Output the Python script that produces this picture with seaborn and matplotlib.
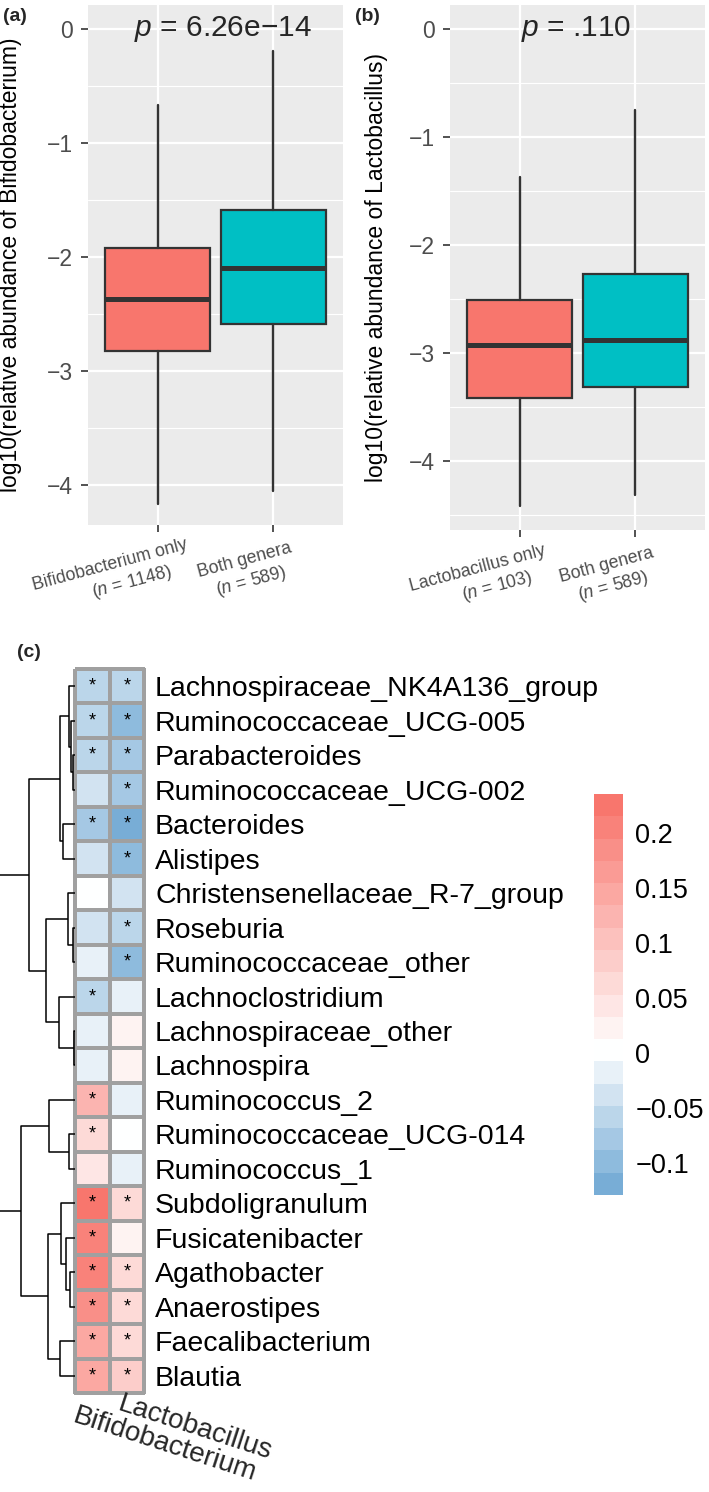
import numpy as np
import pandas as pd
import matplotlib
matplotlib.use("Agg")
import matplotlib.pyplot as plt
import seaborn as sns
from matplotlib.colors import LinearSegmentedColormap
from matplotlib.ticker import MultipleLocator
from matplotlib.transforms import offset_copy

# ---- panel (a) / (b): box summaries (lower whisker, Q1, median, Q3, upper whisker)
groups_a = ["Bifidobacterium only", "Both genera"]
n_a = [1148, 589]
box_a = [[-4.17, -2.82, -2.37, -1.92, -0.67],
         [-4.05, -2.59, -2.10, -1.59, -0.19]]
p_a = "6.26e\u221214"

groups_b = ["Lactobacillus only", "Both genera"]
n_b = [103, 589]
box_b = [[-4.42, -3.42, -2.93, -2.51, -1.37],
         [-4.32, -3.32, -2.88, -2.27, -0.75]]
p_b = ".110"

box_colors = ["#F8766D", "#00BFC4"]

# ---- panel (c): correlations with each genus
genera = ["Lachnospiraceae_NK4A136_group", "Ruminococcaceae_UCG-005", "Parabacteroides",
          "Ruminococcaceae_UCG-002", "Bacteroides", "Alistipes",
          "Christensenellaceae_R-7_group", "Roseburia", "Ruminococcaceae_other",
          "Lachnoclostridium", "Lachnospiraceae_other", "Lachnospira",
          "Ruminococcus_2", "Ruminococcaceae_UCG-014", "Ruminococcus_1",
          "Subdoligranulum", "Fusicatenibacter", "Agathobacter", "Anaerostipes",
          "Faecalibacterium", "Blautia"]
corr_bif = [-0.060, -0.060, -0.065, -0.045, -0.075, -0.030, 0.002, -0.035, -0.015,
            -0.055, -0.015, -0.015, 0.120, 0.060, 0.050, 0.220, 0.200, 0.200, 0.180,
            0.140, 0.150]
corr_lac = [-0.060, -0.090, -0.085, -0.085, -0.110, -0.095, -0.045, -0.060, -0.090,
            -0.015, 0.025, 0.025, -0.015, 0.003, -0.015, 0.070, 0.030, 0.070, 0.070,
            0.060, 0.090]
star_bif = [1, 1, 1, 0, 1, 0, 0, 0, 0, 1, 0, 0, 1, 1, 0, 1, 1, 1, 1, 1, 1]
star_lac = [1, 1, 1, 1, 1, 1, 0, 1, 1, 0, 0, 0, 0, 0, 0, 1, 0, 1, 1, 1, 1]
col_names = ["Bifidobacterium", "Lactobacillus"]

# row dendrogram: (child, child, height); leaves 0..20, merged nodes numbered from 21
merges = [(2, 3, 0.024), (1, 21, 0.048), (0, 22, 0.071), (4, 5, 0.143), (23, 24, 0.179),
          (7, 8, 0.024), (6, 26, 0.083), (10, 11, 0.006), (9, 28, 0.190), (27, 29, 0.345),
          (25, 30, 0.548), (13, 14, 0.071), (12, 32, 0.310), (17, 18, 0.060),
          (16, 34, 0.107), (15, 35, 0.167), (19, 20, 0.179), (36, 37, 0.321),
          (33, 38, 0.643), (31, 39, 1.000)]

cbar_ticks = [-0.1, -0.05, 0, 0.05, 0.1, 0.15, 0.2]
cbar_labels = ["\u22120.1", "\u22120.05", "0", "0.05", "0.1", "0.15", "0.2"]
vmin, vmax = -0.129, 0.235

sns.set_theme(style="darkgrid")
plt.rcParams["font.family"] = ["Liberation Sans", "DejaVu Sans"]
plt.rcParams["mathtext.fontset"] = "custom"
plt.rcParams["mathtext.rm"] = "Liberation Sans"
plt.rcParams["mathtext.it"] = "Liberation Sans:italic"

W, H = 709, 1492
fig = plt.figure(figsize=(W / 100, H / 100), dpi=100)
fig.patch.set_facecolor("white")


def px_axes(x0, y0, x1, y1):
    return fig.add_axes([x0 / W, 1 - y1 / H, (x1 - x0) / W, (y1 - y0) / H])


def slanted_labels(ax, groups, ns, angle=15, hjust=0.8, drop=32, lead=23, size=12.8):
    r = fig.canvas.get_renderer()
    ca, sa = np.cos(np.radians(angle)), np.sin(np.radians(angle))
    for i, (g, n) in enumerate(zip(groups, ns)):
        for k, line in enumerate([g, rf"($\it{{n}}$ = {n})"]):
            probe = ax.text(0, 0, line, fontsize=size)
            w = probe.get_window_extent(r).width
            probe.remove()
            tr = offset_copy(ax.get_xaxis_transform(), fig=fig,
                             x=-hjust * w * ca, y=-(drop + k * lead) - hjust * w * sa,
                             units="dots")
            ax.text(i, 0, line, transform=tr, rotation=angle, rotation_mode="anchor",
                    ha="left", va="baseline", fontsize=size, color="#4D4D4D", clip_on=False)


def box_panel(ax, rows, groups, ns, ylim, ylabel, label_x, ptext, p_x):
    stats = [dict(whislo=r[0], q1=r[1], med=r[2], q3=r[3], whishi=r[4]) for r in rows]
    ax.set_facecolor("#EBEBEB")
    bp = ax.bxp(stats, positions=[0, 1], widths=0.9, patch_artist=True,
                showfliers=False, showcaps=False, manage_ticks=False, zorder=3,
                boxprops=dict(edgecolor="#333333", linewidth=1.6),
                whiskerprops=dict(color="#333333", linewidth=1.7),
                medianprops=dict(color="#333333", linewidth=3.6, solid_capstyle="butt"))
    for patch, c in zip(bp["boxes"], box_colors):
        patch.set_facecolor(c)
    ax.set_xlim(-0.6, 1.6)
    ax.set_ylim(*ylim)
    ax.set_xticks([0, 1])
    ax.set_xticklabels([])
    ax.set_yticks([0, -1, -2, -3, -4])
    ax.set_yticklabels(["0", "\u22121", "\u22122", "\u22123", "\u22124"])
    ax.yaxis.set_minor_locator(MultipleLocator(0.5))
    ax.grid(which="major", color="white", linewidth=1.6)
    ax.grid(which="minor", axis="y", color="white", linewidth=0.8)
    ax.set_axisbelow(True)
    for s in ax.spines.values():
        s.set_visible(False)
    ax.tick_params(which="major", length=5, width=1.2, color="#333333",
                   labelcolor="#4D4D4D", labelsize=16.5, pad=6, bottom=True, left=True)
    ax.tick_params(which="minor", length=0)
    ax.set_ylabel(ylabel, fontsize=16.5, color="black")
    ax.yaxis.set_label_coords(label_x, 0.5)
    ax.text(p_x, 0, rf"$\it{{p}}$ = {ptext}", fontsize=21.5, ha="center", va="center", zorder=4)
    slanted_labels(ax, groups, ns)


ax_a = px_axes(88, 5, 343, 525)
box_panel(ax_a, box_a, groups_a, n_a, (-4.35, 0.21),
          "log10(relative abundance of Bifidobacterium)", -0.259, p_a, 0.56)
ax_b = px_axes(450, 5, 705, 530)
box_panel(ax_b, box_b, groups_b, n_b, (-4.64, 0.22),
          "log10(relative abundance of Lactobacillus)", -0.243, p_b, 0.49)

# ---- panel (c) heatmap
df = pd.DataFrame({col_names[0]: corr_bif, col_names[1]: corr_lac}, index=genera)
stars = np.where(np.array([star_bif, star_lac]).T == 1, "*", "")
cmap = LinearSegmentedColormap.from_list(
    "bwr_soft", [(0.0, "#78ADD6"), (-vmin / (vmax - vmin), "#FFFFFF"), (1.0, "#F8766D")], N=18)

ax_h = px_axes(75, 669, 144, 1393)
cax = px_axes(594, 794, 623, 1195)
sns.heatmap(df, ax=ax_h, cmap=cmap, vmin=vmin, vmax=vmax, linewidths=1.5,
            linecolor="#A0A0A0", annot=stars, fmt="",
            annot_kws={"size": 13, "color": "black"},
            cbar_ax=cax, cbar_kws={"ticks": cbar_ticks})
ax_h.collections[0].set_clip_on(False)
ax_h.yaxis.tick_right()
ax_h.set_yticks(np.arange(len(genera)) + 0.5)
ax_h.set_yticklabels(genera, rotation=0, fontsize=20.5, color="black")
ax_h.tick_params(axis="y", length=0, pad=8)
ax_h.set_xticks([])
ax_h.set_xlabel("")
ax_h.set_ylabel("")
ax_h.text(0.08, 21.3, col_names[0], rotation=-18, rotation_mode="anchor", ha="left",
          va="top", fontsize=20, clip_on=False)
ax_h.text(1.4, 20.95, col_names[1], rotation=-18, rotation_mode="anchor", ha="left",
          va="top", fontsize=20, clip_on=False)

cb = ax_h.collections[0].colorbar
cb.outline.set_visible(False)
cax.set_yticklabels(cbar_labels)
cax.tick_params(length=0, pad=9, labelsize=19.5, labelcolor="black")

# ---- dendrogram on the left of the heatmap
ax_d = px_axes(0, 669, 75, 1393)
ypos = {i: i + 0.5 for i in range(len(genera))}
hgt = {i: 0.0 for i in range(len(genera))}
for k, (a, b, h) in enumerate(merges):
    node = len(genera) + k
    ax_d.plot([hgt[a], h, h, hgt[b]], [ypos[a], ypos[a], ypos[b], ypos[b]],
              color="black", linewidth=1.1, solid_capstyle="butt")
    ypos[node] = (ypos[a] + ypos[b]) / 2
    hgt[node] = h
ax_d.set_xlim(75 / 84, 0)
ax_d.set_ylim(len(genera), 0)
ax_d.axis("off")

fig.text(3 / W, 1 - 8 / H, "(a)", ha="left", va="top", fontsize=14, fontweight="bold")
fig.text(355 / W, 1 - 8 / H, "(b)", ha="left", va="top", fontsize=14, fontweight="bold")
fig.text(17 / W, 1 - 644 / H, "(c)", ha="left", va="top", fontsize=14, fontweight="bold")

fig.savefig("out.png", dpi=100, facecolor="white")
